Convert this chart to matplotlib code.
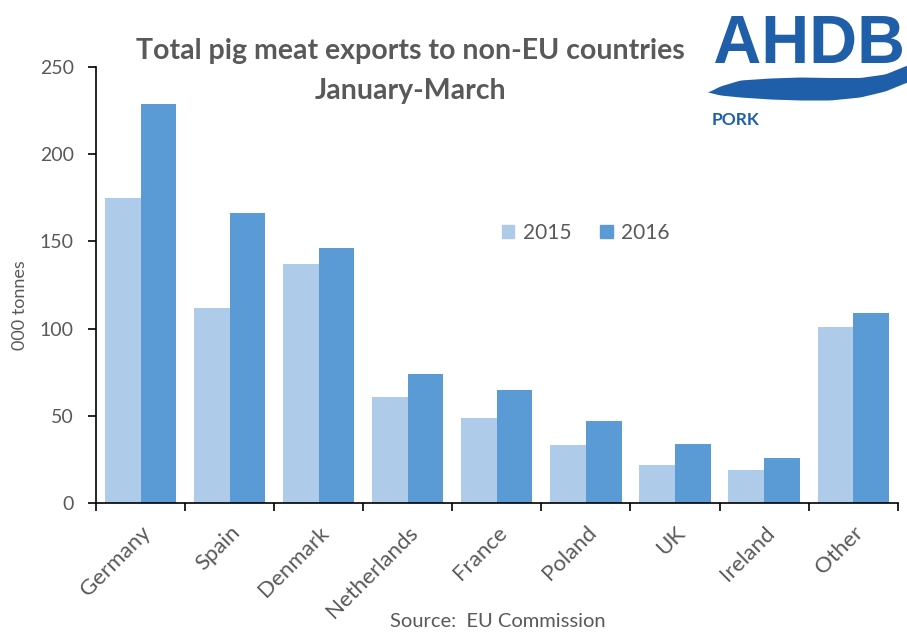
import numpy as np
import matplotlib
matplotlib.use("Agg")
import matplotlib.pyplot as plt
from matplotlib.patches import Patch, PathPatch
from matplotlib.textpath import TextPath
from matplotlib.font_manager import FontProperties
from matplotlib.transforms import Affine2D

countries = ["Germany", "Spain", "Denmark", "Netherlands", "France",
             "Poland", "UK", "Ireland", "Other"]
exports_2015 = [175, 112, 137, 61, 49, 33, 22, 19, 101]
exports_2016 = [229, 166, 146, 74, 65, 47, 34, 26, 109]
yticks = [0, 50, 100, 150, 200, 250]

light = "#AECBEA"
dark = "#5B9BD5"
grey = "#595959"

plt.rcParams["font.family"] = ["Lato", "DejaVu Sans"]

fig = plt.figure(figsize=(9.07, 6.35), dpi=100)
ax = fig.add_axes([0.1058, 0.2079, 0.884, 0.6866])

x = np.arange(len(countries))
w = 0.4
ax.bar(x - w / 2, exports_2015, w, color=light, label="2015")
ax.bar(x + w / 2, exports_2016, w, color=dark, label="2016")

ax.set_xlim(-0.5, len(countries) - 0.5)
ax.set_ylim(0, 250)
ax.set_yticks(yticks)
ax.tick_params(axis="y", direction="out", length=6, width=1.2, labelsize=14,
               labelcolor=grey, pad=10)
ax.set_xticks(x)
ax.set_xticklabels(countries, rotation=45, ha="right", rotation_mode="anchor",
                   fontsize=16, color=grey)
ax.tick_params(axis="x", which="major", length=0, pad=14)
ax.set_xticks(np.arange(-0.5, len(countries)), minor=True)
ax.tick_params(axis="x", which="minor", direction="out", length=6, width=1.2)

for s in ["top", "right"]:
    ax.spines[s].set_visible(False)
for s in ["left", "bottom"]:
    ax.spines[s].set_linewidth(1.2)

fig.text(0.022, 0.52, "000 tonnes", rotation=90, ha="center", va="center",
         fontsize=13, color=grey)

handles = [Patch(color=light), Patch(color=dark)]
ax.legend(handles, ["2015", "2016"], loc="center", bbox_to_anchor=(0.611, 0.62),
          ncol=2, frameon=False, fontsize=15, handlelength=0.6, handleheight=0.6,
          columnspacing=1.4, handletextpad=0.4, labelcolor=grey)

fig.text(0.453, 0.92, "Total pig meat exports to non-EU countries", ha="center",
         va="center", fontsize=20.5, fontweight="bold", color=grey)
fig.text(0.453, 0.857, "January-March", ha="center", va="center",
         fontsize=20.5, fontweight="bold", color=grey)

fig.text(0.549, 0.008, "Source:  EU Commission", ha="center", va="bottom",
         fontsize=14.5, color=grey)

# AHDB logo, drawn in pixel coordinates on an overlay axes
blue = "#1F5FAA"
lax = fig.add_axes([0, 0, 1, 1])
lax.set_xlim(0, 907)
lax.set_ylim(635, 0)
lax.axis("off")

tp = TextPath((0, 0), "AHDB", size=50,
              prop=FontProperties(family="Liberation Sans", weight="bold"))
ext = tp.get_extents()
sx = (902 - 715) / ext.width
sy = (63 - 16) / ext.height
tr = (Affine2D().translate(-ext.x0, -ext.y0).scale(sx, -sy).translate(715, 63))
lax.add_patch(PathPatch(tr.transform_path(tp), color=blue, lw=0))

wx = [708, 720, 740, 770, 800, 830, 860, 885, 907]
wtop = [92, 86, 80, 78, 77, 77.5, 77.5, 74, 65]
wbot = [92, 95, 97, 99, 100, 100, 97, 91, 82]
fx = np.linspace(708, 907, 200)
k = np.ones(7) / 7
top = np.convolve(np.pad(np.interp(fx, wx, wtop), 3, mode="edge"), k, "valid")
bot = np.convolve(np.pad(np.interp(fx, wx, wbot), 3, mode="edge"), k, "valid")
lax.fill_between(fx, bot, top, color=blue, lw=0)

lax.text(712, 120, "PORK", ha="left", va="center", fontsize=12.5,
         fontweight="bold", color=blue)

fig.savefig("out.png", dpi=100)
